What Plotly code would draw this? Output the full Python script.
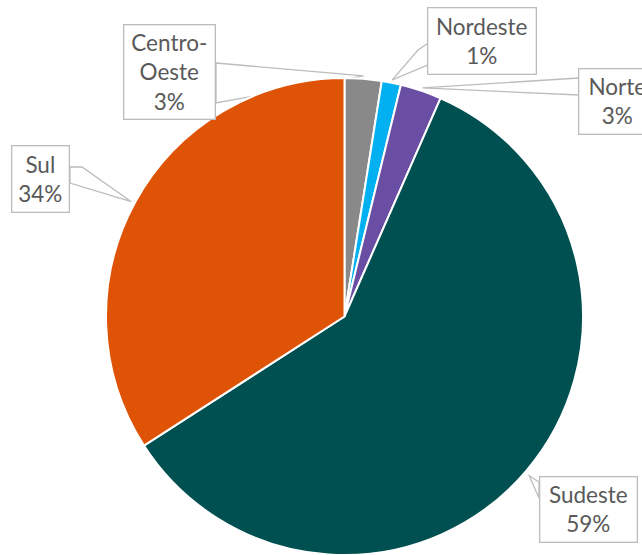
import math
import plotly.graph_objects as go

# ---- data ----
regions = ["Centro-Oeste", "Nordeste", "Norte", "Sudeste", "Sul"]
label_text = ["Centro-<br>Oeste", "Nordeste", "Norte", "Sudeste", "Sul"]
values = [2.5, 1.3, 2.8, 59.3, 34.1]
colors = ["#898989", "#00b0f0", "#6a4ea3", "#004f51", "#df5307"]

# ---- layout constants (screen pixels) ----
W, H = 642, 555
OFF = 0  # page body margin removed via post_script
CX, CY, R = 344.5, 318.0, 240.0

# callout boxes: center x, center y, width, height (screen pixels)
boxes = {
    "Centro-Oeste": (170, 71.5, 92, 95),
    "Nordeste": (482.5, 40.5, 109, 67),
    "Norte": (617, 101, 78, 66),
    "Sudeste": (588, 509, 98, 66),
    "Sul": (41, 178.5, 58, 67),
}
# wedge base points on the box edges; the tip is computed from the data
bases = {
    "Centro-Oeste": [(216, 63)],
    "Nordeste": [(430, 42), (418, 50)],
    "Norte": [(579, 78)],
    "Sudeste": [(539, 482)],
    "Sul": [(70, 167), (82, 167)],
}
bases_end = {
    "Centro-Oeste": (216, 103),
    "Nordeste": (430, 64),
    "Norte": (579, 95),
    "Sudeste": (539, 498),
    "Sul": (70, 183),
}


def px(x):
    return (x - OFF) / W


def py(y):
    return 1 - (y - OFF) / H


total = sum(values)
fig = go.Figure()
fig.add_trace(go.Pie(
    labels=regions, values=values, sort=False, direction="clockwise", rotation=0,
    marker=dict(colors=colors, line=dict(color="white", width=2)),
    textinfo="none", hoverinfo="skip", showlegend=False,
    domain=dict(x=[px(CX - R), px(CX + R)], y=[max(0, py(CY + R)), py(CY - R)]),
))

shapes = []
annotations = []
cum = 0.0
for name, txt, v in zip(regions, label_text, values):
    mid = (cum + v / 2) / total * 2 * math.pi
    cum += v
    rt = R * 1.012
    tx = CX + rt * math.sin(mid)
    ty = CY - rt * math.cos(mid)
    pts = bases[name] + [(tx, ty), bases_end[name]]
    path = "M " + " L ".join(f"{px(a):.5f},{py(b):.5f}" for a, b in pts) + " Z"
    shapes.append(dict(type="path", xref="paper", yref="paper", path=path,
                       fillcolor="white", line=dict(color="#bcbcbc", width=1.3), layer="below"))
    pct = math.floor(v / total * 100 + 0.5)
    bx, by, bw, bh = boxes[name]
    annotations.append(dict(
        x=px(bx), y=py(by), xref="paper", yref="paper", xanchor="center", yanchor="middle",
        text=f"{txt}<br>{pct}%", showarrow=False, align="center", valign="middle",
        width=bw - 2, height=bh - 2, borderpad=0, borderwidth=1.3, bordercolor="#bcbcbc",
        bgcolor="white", font=dict(family="Lato", size=22.5, color="#595959"),
    ))

fig.update_layout(
    width=W, height=H, margin=dict(l=0, r=0, t=0, b=0),
    paper_bgcolor="white", plot_bgcolor="white",
    shapes=shapes, annotations=annotations,
)
fig.write_html("out.html", config={"displayModeBar": False},
               post_script="document.body.style.margin='0px';document.body.style.overflow='hidden';")
